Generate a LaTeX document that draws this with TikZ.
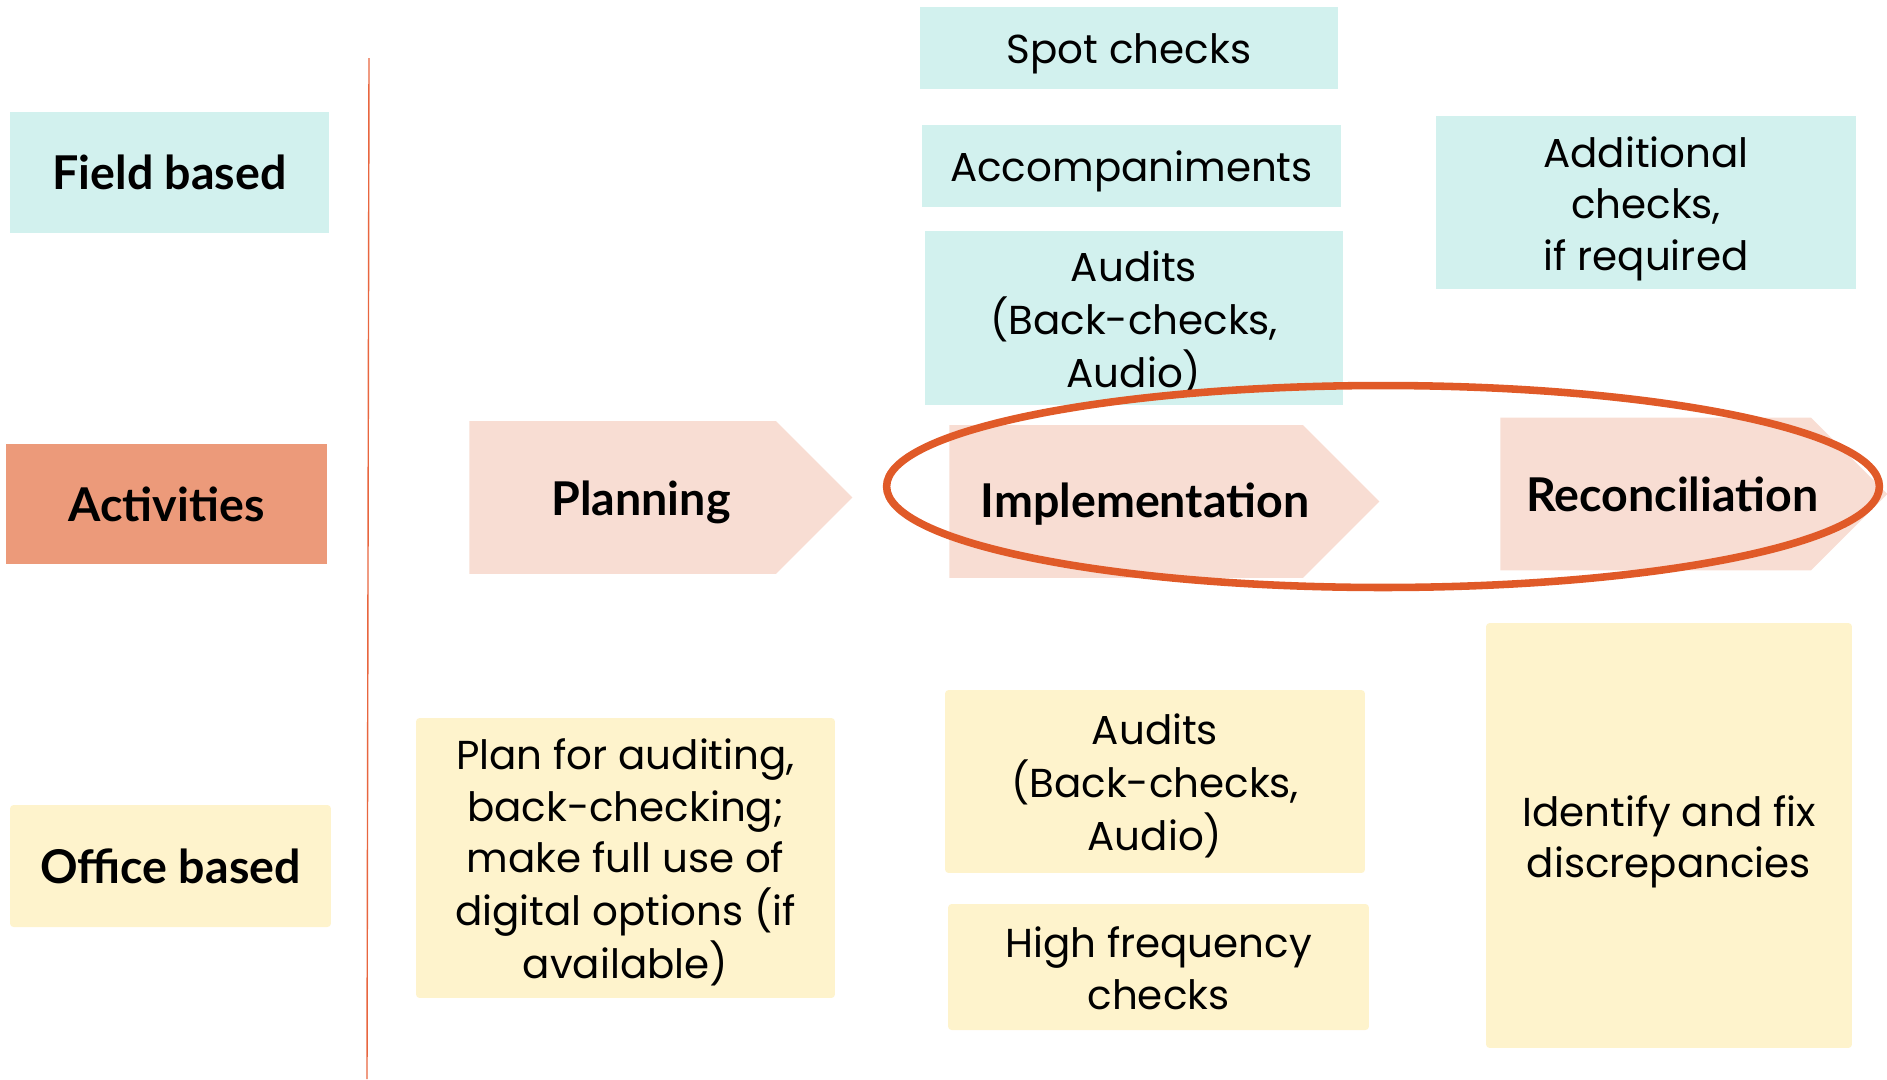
\documentclass[tikz,border=0pt]{standalone}
\usepackage{fontspec}
\setmainfont{Poppins}
\newfontfamily\headfont{Lato}
\usetikzlibrary{shapes.geometric,shapes.symbols}

\definecolor{fieldcol}{HTML}{D2F1EE}
\definecolor{actcol}{HTML}{EC9A7A}
\definecolor{stagecol}{HTML}{F8DDD3}
\definecolor{officecol}{HTML}{FEF3CC}
\definecolor{ringcol}{HTML}{E05A28}
\definecolor{linecol}{HTML}{E8663F}

% lowers a block of lines inside its box, keeping the box size
\newcommand{\lowerlines}[1]{\raisebox{-3.4pt}[\height][\depth]{\begin{tabular}{@{}c@{}}#1\end{tabular}}}

\begin{document}
\begin{tikzpicture}[x=0.02cm, y=-0.02cm,
    every node/.style={inner sep=0pt, align=center, font=\fontsize{23}{29.3}\selectfont},
    fieldbox/.style={fill=fieldcol},
    officebox/.style={fill=officecol, rounded corners=2pt},
    % strut on the first line sets the text a little lower in its box
    lowered/.style={execute at begin node={\rule{0pt}{#1}}},
    lowered/.default=1.05em,
    rowlabel/.style={font=\headfont\bfseries\fontsize{26.5}{32}\selectfont},
    stage/.style={signal, signal to=east, signal pointer angle=90, fill=stagecol,
        minimum height=3.06cm, anchor=west},
    stagetext/.style={anchor=base, font=\headfont\bfseries\fontsize{26.5}{32}\selectfont},
    ring/.style={ellipse, draw=ringcol, line width=4.3pt},
    divider/.style={draw=linecol, line width=0.8pt}]

    % fixed page size (pixel grid)
    \useasboundingbox (0,0) rectangle (1887,1079);

    % row labels on the left
    \node[fieldbox, rowlabel, minimum width=6.38cm, minimum height=2.42cm] (field) at (169.5,172.5) {Field based};
    \node[rowlabel, fill=actcol, minimum width=6.42cm, minimum height=2.42cm] (act) at (166.5,504) {Activities};
    \node[officebox, rowlabel, minimum width=6.42cm, minimum height=2.44cm] (office) at (170.5,866) {Office based};

    % divider
    \coordinate (divtop) at (369,58);
    \coordinate (divbot) at (367,1079);
    \draw[divider] (divtop) -- (divbot);

    % the three stages
    \node[stage, minimum width=7.66cm] (plan) at (469,497.5) {};
    \node[stage, minimum width=8.6cm] (impl) at (949,501.5) {};
    \node[stage, minimum width=7.74cm] (recon) at (1500,494) {};
    \node[stagetext] (plantext) at (641,515) {Planning};
    \node[stagetext] (impltext) at (1145,517) {Implementation};
    \node[stagetext] (recontext) at (1672.5,511) {Reconciliation};

    % field based checks
    \node[fieldbox, lowered, minimum width=8.36cm, minimum height=1.64cm] (spot) at (1129,48) {Spot checks};
    \node[fieldbox, lowered, minimum width=8.38cm, minimum height=1.64cm] (accomp) at (1131.5,166) {Accompaniments};
    \node[fieldbox, minimum width=8.36cm, minimum height=3.48cm] (fieldaudit) at (1134,318)
        {\lowerlines{Audits\\(Back-checks,\\Audio)}};
    \node[fieldbox, minimum width=8.4cm, minimum height=3.46cm] (extra) at (1646,202.5)
        {\lowerlines{Additional\\checks,\\if required}};

    % office based work
    \node[officebox, minimum width=8.38cm, minimum height=5.6cm] (planoffice) at (625.5,858)
        {\lowerlines{Plan for auditing,\\back-checking;\\make full use of\\digital options (if\\available)}};
    \node[officebox, minimum width=8.4cm, minimum height=3.66cm] (officeaudit) at (1155,781.5)
        {\lowerlines{Audits\\(Back-checks,\\Audio)}};
    \node[officebox, minimum width=8.42cm, minimum height=2.52cm] (hifreq) at (1158.5,967)
        {\lowerlines{High frequency\\checks}};
    \node[officebox, minimum width=7.32cm, minimum height=8.5cm] (fix) at (1669,835.5)
        {\lowerlines{Identify and fix\\discrepancies}};

    % highlight round implementation and reconciliation
    \node[ring, minimum width=19.86cm, minimum height=4.04cm] (focus) at (1383,486.5) {};
\end{tikzpicture}
\end{document}
